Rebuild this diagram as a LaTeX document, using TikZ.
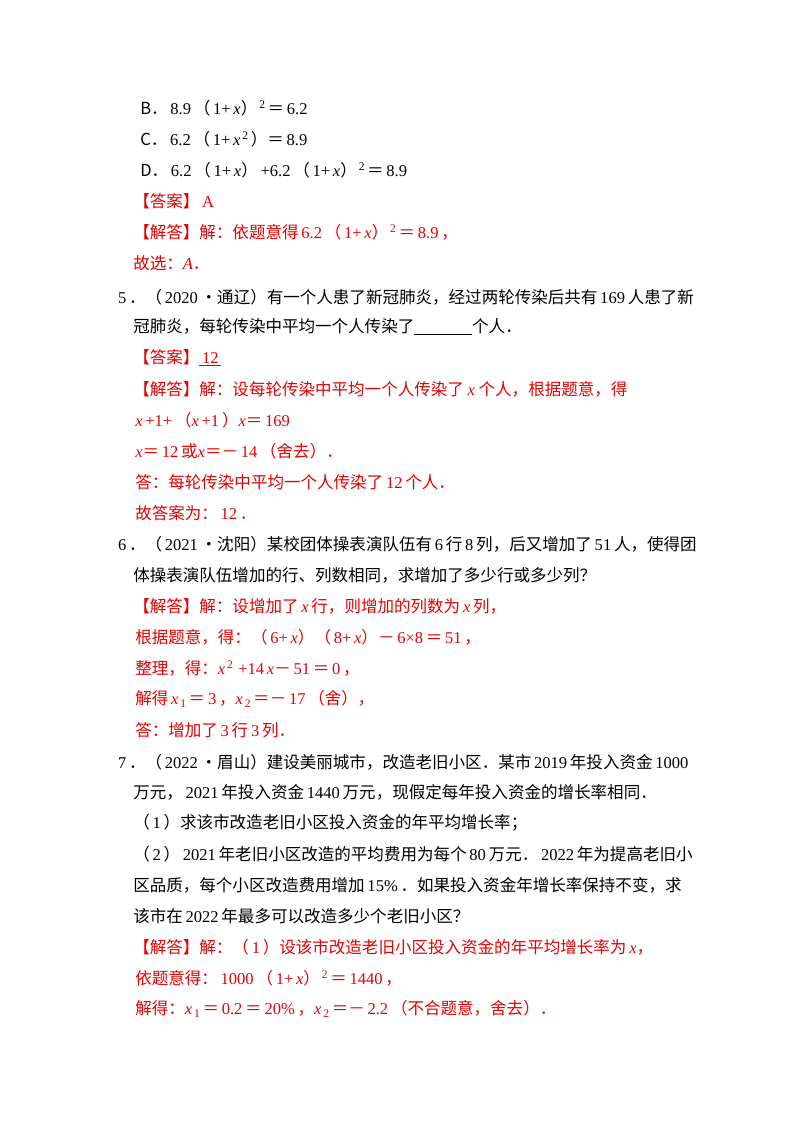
\documentclass[tikz,border=0pt]{standalone}
\usepackage{fontspec}
\setmainfont{Noto Sans CJK SC}
\newfontfamily\lat{Liberation Serif}
\newcommand\vx{{\lat\itshape x}}
\newcommand\en[1]{{\lat\,#1\,}}
\definecolor{ans}{RGB}{230,0,0}
\begin{document}
\begin{tikzpicture}[x=0.75pt,y=-0.75pt,
  ln/.style={anchor=west,inner sep=0pt,font=\fontsize{12.4pt}{14pt}\selectfont},
  rd/.style={ln,text=ans}]
\useasboundingbox (0,0) rectangle (800,1132);
\node[ln] (b) at (140,108) {B．\en{8.9}（\en{1+}\vx）\textsuperscript{\en{2}}＝\en{6.2}};
\node[ln] (c) at (140,139) {C．\en{6.2}（\en{1+}\vx\textsuperscript{\en{2}}）＝\en{8.9}};
\node[ln] (d) at (140,170) {D．\en{6.2}（\en{1+}\vx）\en{+6.2}（\en{1+}\vx）\textsuperscript{\en{2}}＝\en{8.9}};
\node[rd] (a4) at (133,201) {【答案】\en{A}};
\node[rd] (j4) at (133,232) {【解答】解：依题意得\en{6.2}（\en{1+}\vx）\textsuperscript{\en{2}}＝\en{8.9}，};
\node[rd] (g4) at (133,263) {故选：{\lat\itshape A}．};
\node[ln] (q5) at (115,297) {\en{5}．（\en{2020}•通辽）有一个人患了新冠肺炎，经过两轮传染后共有\en{169}人患了新};
\node[ln] (q5b) at (133,327) {冠肺炎，每轮传染中平均一个人传染了\underline{\hspace{3.5em}}个人．};
\node[rd] (a5) at (133,358) {【答案】\underline{\en{12}}};
\node[rd] (j5) at (133,389) {【解答】解：设每轮传染中平均一个人传染了 \vx\ 个人，根据题意，得};
\node[rd] (e5a) at (135,420) {\vx\en{+1+}（\vx\en{+1}）\vx＝\en{169}};
\node[rd] (e5b) at (135,451) {\vx＝\en{12}或\vx＝－\en{14}（舍去）．};
\node[rd] (e5c) at (135,482) {答：每轮传染中平均一个人传染了\en{12}个人．};
\node[rd] (e5d) at (135,513) {故答案为：\en{12}．};
\node[ln] (q6) at (115,544) {\en{6}．（\en{2021}•沈阳）某校团体操表演队伍有\en{6}行\en{8}列，后又增加了\en{51}人，使得团};
\node[ln] (q6b) at (133,575) {体操表演队伍增加的行、列数相同，求增加了多少行或多少列？};
\node[rd] (j6) at (133,606) {【解答】解：设增加了\,\vx\,行，则增加的列数为\,\vx\,列，};
\node[rd] (e6a) at (135,637) {根据题意，得：（\en{6+}\vx）（\en{8+}\vx）－\en{6×8}＝\en{51}，};
\node[rd] (e6b) at (135,668) {整理，得：\vx\textsuperscript{\en{2}}\en{+14}\vx－\en{51}＝\en{0}，};
\node[rd] (e6c) at (135,699) {解得\,\vx\textsubscript{\en{1}}＝\en{3}，\vx\textsubscript{\en{2}}＝－\en{17}（舍），};
\node[rd] (e6d) at (135,730) {答：增加了\en{3}行\en{3}列．};
\node[ln] (q7) at (115,762) {\en{7}．（\en{2022}•眉山）建设美丽城市，改造老旧小区．某市\en{2019}年投入资金\en{1000}};
\node[ln] (q7b) at (133,792) {万元，\en{2021}年投入资金\en{1440}万元，现假定每年投入资金的增长率相同．};
\node[ln] (q7c) at (133,823) {（\en{1}）求该市改造老旧小区投入资金的年平均增长率；};
\node[ln] (q7d) at (133,854) {（\en{2}）\en{2021}年老旧小区改造的平均费用为每个\en{80}万元．\en{2022}年为提高老旧小};
\node[ln] (q7e) at (133,885) {区品质，每个小区改造费用增加\en{15\%}．如果投入资金年增长率保持不变，求};
\node[ln] (q7f) at (133,916) {该市在\en{2022}年最多可以改造多少个老旧小区？};
\node[rd] (j7) at (133,947) {【解答】解：（\en{1}）设该市改造老旧小区投入资金的年平均增长率为\,\vx，};
\node[rd] (e7a) at (135,978) {依题意得：\en{1000}（\en{1+}\vx）\textsuperscript{\en{2}}＝\en{1440}，};
\node[rd] (e7b) at (135,1009) {解得：\vx\textsubscript{\en{1}}＝\en{0.2}＝\en{20\%}，\vx\textsubscript{\en{2}}＝－\en{2.2}（不合题意，舍去）．};
\end{tikzpicture}
\end{document}
